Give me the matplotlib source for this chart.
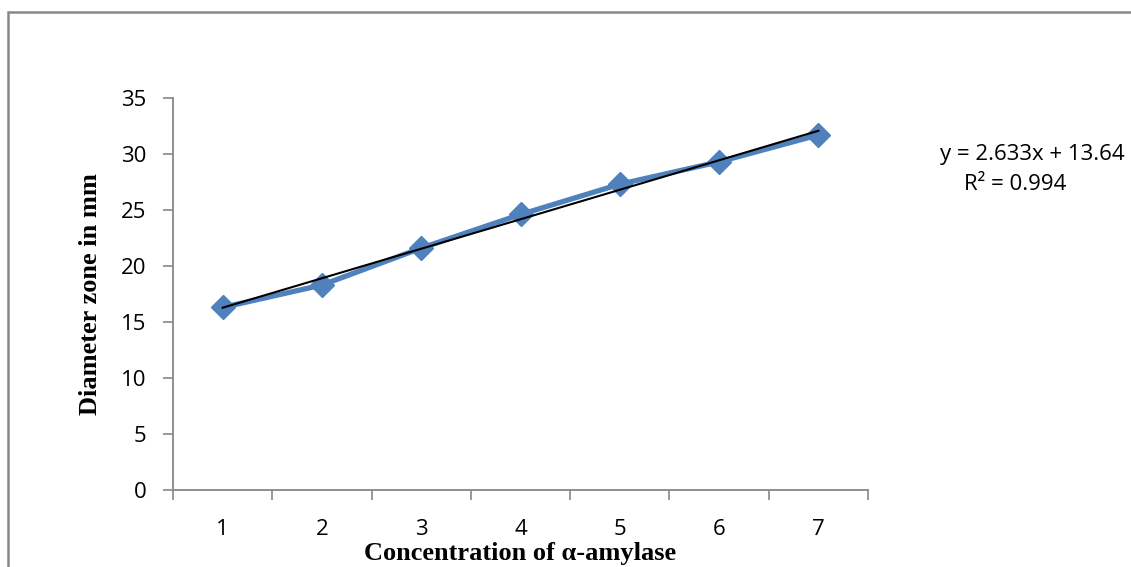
import matplotlib
matplotlib.use("Agg")
import numpy as np
from matplotlib import pyplot as plt
from matplotlib.patches import Rectangle

# data
concentration = [1, 2, 3, 4, 5, 6, 7]
diameter = [16.3, 18.3, 21.6, 24.6, 27.3, 29.3, 31.7]
slope = 2.633
intercept = 13.64
r_squared = 0.994

y_ticks = [0, 5, 10, 15, 20, 25, 30, 35]

fig = plt.figure(figsize=(11.31, 5.67), dpi=100)
ax = fig.add_axes([0.153, 0.1358, 0.6145, 0.6914])

ax.plot(concentration, diameter, color='#4F81BD', lw=3.8, marker='D',
        markersize=12, markeredgecolor='#4F81BD', zorder=2)

x_fit = np.array([concentration[0], concentration[-1]])
ax.plot(x_fit, slope * x_fit + intercept, color='black', lw=1.5, zorder=3)

ax.set_xlim(0.5, 7.5)
ax.set_ylim(0, 35)
ax.set_yticks(y_ticks)

# category axis: ticks between categories, labels at the centres
ax.set_xticks(np.arange(0.5, 8.0, 1.0))
ax.set_xticklabels([])
ax.set_xticks(concentration, minor=True)
ax.set_xticklabels([str(c) for c in concentration], minor=True)
ax.tick_params(axis='x', which='minor', length=0, pad=21)
ax.tick_params(axis='x', which='major', length=7, color='#878787', width=1.2)
ax.tick_params(axis='y', length=7, color='#878787', width=1.2, pad=12)

tick_font = 'Open Sans'
for lab in ax.get_xticklabels(minor=True) + ax.get_yticklabels():
    lab.set_fontfamily(tick_font)
    lab.set_fontsize(16)

for side in ['top', 'right']:
    ax.spines[side].set_visible(False)
for side in ['left', 'bottom']:
    ax.spines[side].set_color('#878787')
    ax.spines[side].set_linewidth(1.3)

ax.set_xlabel('Concentration of α-amylase', family='Liberation Serif',
              fontweight='bold', fontsize=19, labelpad=1)
ax.set_ylabel('Diameter zone in mm', family='Liberation Serif',
              fontweight='bold', fontsize=19, labelpad=14)

fig.text(0.8311, 0.728, 'y = %.3fx + %.2f' % (slope, intercept),
         family=tick_font, fontsize=16, va='center', ha='left')
fig.text(0.8975, 0.675, 'R² = %.3f' % r_squared,
         family=tick_font, fontsize=16, va='center', ha='center')

# outer chart border (runs off the right and bottom edges)
fig.patches.append(Rectangle((8 / 1131, -0.1), 1.2, 1 - 12 / 567 + 0.1,
                             transform=fig.transFigure, fill=False,
                             edgecolor='#888888', lw=1.8))

fig.savefig('out.png', dpi=100)
